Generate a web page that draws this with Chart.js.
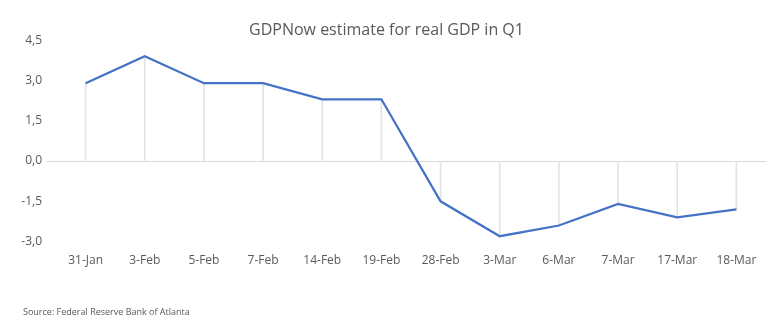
<!DOCTYPE html>
<html>
<head>
<meta charset="utf-8">
<script src="https://cdn.jsdelivr.net/npm/chart.js@4"></script>
<style>
html,body{margin:0;padding:0;background:#fff;}
#wrap{width:776px;height:332px;position:relative;}
</style>
</head>
<body>
<div id="wrap"><canvas id="c" width="776" height="332"></canvas></div>
<script>
const categories = ['31-Jan','3-Feb','5-Feb','7-Feb','14-Feb','19-Feb','28-Feb','3-Mar','6-Mar','7-Mar','17-Mar','18-Mar'];
const gdpNow = [2.9, 3.9, 2.9, 2.9, 2.3, 2.3, -1.5, -2.8, -2.4, -1.6, -2.1, -1.8];
const titleText = 'GDPNow estimate for real GDP in Q1';
const sourceText = 'Source: Federal Reserve Bank of Atlanta';
const yMin = -3.0, yMax = 4.5, yStep = 1.5;

const FONT = "'Open Sans', 'Liberation Sans', sans-serif";
const TXT = '#595959';

const sourcePlugin = {
  id: 'sourceText',
  afterDraw(chart) {
    const ctx = chart.ctx;
    ctx.save();
    ctx.font = '9px ' + FONT;
    ctx.fillStyle = TXT;
    ctx.textBaseline = 'middle';
    ctx.textAlign = 'left';
    ctx.fillText(sourceText, 23, 312);
    ctx.restore();
  }
};

new Chart(document.getElementById('c'), {
  data: {
    labels: categories,
    datasets: [
      {
        type: 'line',
        data: gdpNow,
        borderColor: '#4472C4',
        borderWidth: 2.25,
        pointRadius: 0,
        tension: 0,
        fill: false,
        order: 1
      },
      {
        type: 'bar',
        data: gdpNow.map(v => [0, v]),
        backgroundColor: '#e3e3e3',
        borderWidth: 0,
        barThickness: 1,
        order: 2
      }
    ]
  },
  options: {
    responsive: false,
    animation: false,
    layout: { padding: { top: 0, left: 7, right: 10, bottom: 52 } },
    plugins: {
      legend: { display: false },
      tooltip: { enabled: false },
      title: {
        display: true,
        text: titleText,
        color: TXT,
        font: { family: FONT, size: 16, weight: 'normal', lineHeight: 1.2 },
        padding: { top: 21, bottom: 0 }
      }
    },
    scales: {
      x: {
        offset: true,
        grid: { display: false, drawTicks: false },
        border: { display: false },
        ticks: { color: TXT, font: { family: FONT, size: 12 }, padding: 12, maxRotation: 0, autoSkip: false }
      },
      y: {
        min: yMin,
        max: yMax,
        afterFit(scale) { scale.width = 49; },
        border: { display: false },
        grid: {
          color: ctx => (ctx.tick && ctx.tick.value === 0) ? '#d9d9d9' : 'rgba(0,0,0,0)',
          lineWidth: 1,
          drawTicks: true,
          tickLength: 10
        },
        ticks: {
          stepSize: yStep,
          color: TXT,
          font: { family: FONT, size: 12 },
          padding: 4,
          callback: v => v.toFixed(1).replace('.', ',')
        }
      }
    }
  },
  plugins: [sourcePlugin]
});
</script>
</body>
</html>
